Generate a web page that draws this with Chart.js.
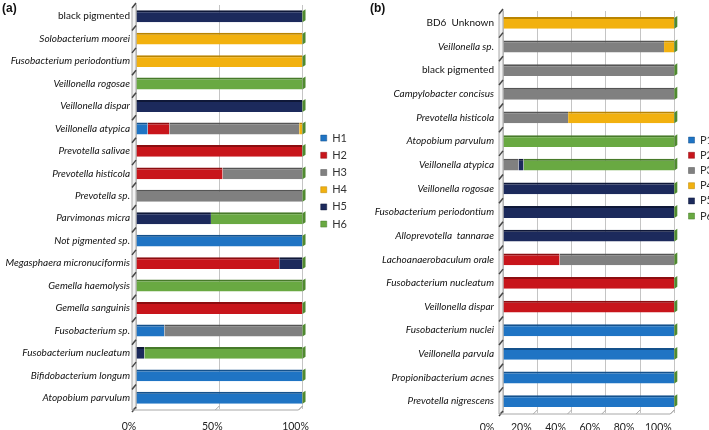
<!DOCTYPE html>
<html>
<head>
<meta charset="utf-8">
<script src="https://cdn.jsdelivr.net/npm/chart.js@4.4.1/dist/chart.umd.min.js"></script>
<style>
html,body{margin:0;padding:0;background:#fff;overflow:hidden;}
#wrap{position:relative;width:709px;height:430px;overflow:hidden;}
.panel{position:absolute;top:0;height:430px;}
#pa{left:0;width:360px;}
#pb{left:360px;width:380px;}
.tag{position:absolute;top:1px;font:bold 12px "Liberation Sans",Arial,sans-serif;color:#111;}
</style>
</head>
<body>
<div id="wrap">
<div class="panel" id="pa"><canvas id="chartA" width="360" height="430"></canvas></div>
<div class="panel" id="pb"><canvas id="chartB" width="380" height="430"></canvas></div>
<div class="tag" style="left:2px">(a)</div>
<div class="tag" style="left:370px">(b)</div>
</div>
<script>
// panel (a): rows top to bottom
const taxaA = ["black pigmented","Solobacterium moorei","Fusobacterium periodontium","Veillonella rogosae",
"Veillonella dispar","Veillonella atypica","Prevotella salivae","Prevotella histicola","Prevotella sp.",
"Parvimonas micra","Not pigmented sp.","Megasphaera micronuciformis","Gemella haemolysis","Gemella sanguinis",
"Fusobacterium sp.","Fusobacterium nucleatum","Bifidobacterium longum","Atopobium parvulum"];
const groupsA = ["H1","H2","H3","H4","H5","H6"];
const h1 = [0,0,0,0,0,7,0,0,0,0,100,0,0,0,17,0,100,100];
const h2 = [0,0,0,0,0,13,100,52,0,0,0,86,0,100,0,0,0,0];
const h3 = [0,0,0,0,0,78,0,48,100,0,0,0,0,0,83,0,0,0];
const h4 = [0,100,100,0,0,2,0,0,0,0,0,0,0,0,0,0,0,0];
const h5 = [100,0,0,0,100,0,0,0,0,45,0,14,0,0,0,5,0,0];
const h6 = [0,0,0,100,0,0,0,0,0,55,0,0,100,0,0,95,0,0];
const ticksA = [0,50,100];

// panel (b)
const taxaB = ["BD6  Unknown","Veillonella sp.","black pigmented","Campylobacter concisus","Prevotella histicola",
"Atopobium parvulum","Veillonella atypica","Veillonella rogosae","Fusobacterium periodontium",
"Alloprevotella  tannarae","Lachoanaerobaculum orale","Fusobacterium nucleatum","Veillonella dispar",
"Fusobacterium nuclei","Veillonella parvula","Propionibacterium acnes","Prevotella nigrescens"];
const groupsB = ["P1","P2","P3","P4","P5","P6"];
const p1 = [0,0,0,0,0,0,0,0,0,0,0,0,0,100,100,100,100];
const p2 = [0,0,0,0,0,0,0,0,0,0,33,100,100,0,0,0,0];
const p3 = [0,94,100,100,38,0,9,0,0,0,67,0,0,0,0,0,0];
const p4 = [100,6,0,0,62,0,0,0,0,0,0,0,0,0,0,0,0];
const p5 = [0,0,0,0,0,0,3,100,100,100,0,0,0,0,0,0,0];
const p6 = [0,0,0,0,0,100,88,0,0,0,0,0,0,0,0,0,0];
const ticksB = [0,20,40,60,80,100];

const fills = ["#1f74c4","#c8151b","#808080","#f2b10f","#1c2a5c","#69a942"];
const tops  = ["#14518c","#8c0d10","#555555","#b98400","#0f1838","#477a2a"];
const upright = ["black pigmented","BD6  Unknown"];

// 3d-ish wall, floor and end caps
const deco = {
  id:"deco",
  beforeDatasetsDraw(chart){
    const {ctx, chartArea:a, scales:{x,y}} = chart;
    ctx.save();
    // left wall
    ctx.fillStyle = "#f2f2f2";
    ctx.strokeStyle = "#a8a8a8";
    ctx.lineWidth = 1;
    ctx.beginPath();
    ctx.moveTo(a.left-4, a.top+3); ctx.lineTo(a.left, a.top-1);
    ctx.lineTo(a.left, a.bottom-3); ctx.lineTo(a.left-4, a.bottom+1);
    ctx.closePath(); ctx.fill(); ctx.stroke();
    ctx.strokeStyle = "#444";
    ctx.lineWidth = 1.5;
    const n = y.ticks.length;
    for(let i=0;i<=n;i++){
      const yb = y.getPixelForValue(i-0.5);
      ctx.beginPath(); ctx.moveTo(a.left-4, yb+3); ctx.lineTo(a.left, yb-2); ctx.stroke();
    }
    // floor
    ctx.strokeStyle = "#a8a8a8";
    ctx.lineWidth = 1;
    ctx.beginPath(); ctx.moveTo(a.left-4, a.bottom+1); ctx.lineTo(a.right-4, a.bottom+1);
    ctx.lineTo(a.right, a.bottom-3); ctx.stroke();
    x.ticks.forEach(t=>{
      const px = x.getPixelForValue(t.value);
      ctx.beginPath(); ctx.moveTo(px-4, a.bottom+1); ctx.lineTo(px, a.bottom-3); ctx.stroke();
    });
    ctx.restore();
  },
  afterDatasetsDraw(chart){
    const {ctx} = chart;
    const metas = chart.getSortedVisibleDatasetMetas();
    const last = metas[metas.length-1];
    ctx.save();
    ctx.fillStyle = "#4f8a2f";
    last.data.forEach(bar=>{
      const h = bar.height, top = bar.y-h/2;
      ctx.beginPath();
      ctx.moveTo(bar.x, top+1); ctx.lineTo(bar.x+3, top-1);
      ctx.lineTo(bar.x+3, top+h-2); ctx.lineTo(bar.x, top+h);
      ctx.closePath(); ctx.fill();
    });
    ctx.restore();
  }
};

function makeChart(id, labels, groups, series, tickVals, o){
  const datasets = groups.map((g,i)=>({
    label:g,
    data:series[i],
    backgroundColor:fills[i],
    borderColor:tops[i],
    borderWidth:{top:2,right:0,bottom:0,left:0},
    borderSkipped:false,
    categoryPercentage:1,
    barPercentage:o.barPct
  }));
  return new Chart(document.getElementById(id),{
    type:"bar",
    data:{labels:labels, datasets:datasets},
    plugins:[deco],
    options:{
      indexAxis:"y",
      responsive:false,
      animation:false,
      layout:{padding:{left:0,right:o.padRight,top:o.padTop,bottom:0}},
      plugins:{
        tooltip:{enabled:false},
        legend:{
          position:"right",
          align:"start",
          title:{display:true,text:" ",padding:{top:o.legendTop,bottom:0}},
          labels:{boxWidth:6,boxHeight:6,padding:o.legendPad,color:"#333",
            font:{family:"Lato",size:11}}
        }
      },
      scales:{
        x:{
          stacked:true,min:0,max:100,
          afterBuildTicks:s=>{s.ticks = tickVals.map(v=>({value:v}));},
          afterFit:s=>{s.height=o.xHeight; s.paddingLeft=0; s.paddingRight=0;},
          grid:{color:"#c4c4c4",drawTicks:false},
          border:{display:false},
          ticks:{padding:o.xPad,labelOffset:o.xOffset,color:"#222",
            font:{family:"Lato",size:10.5},
            callback:v=>v+"%"}
        },
        y:{
          stacked:true,
          afterFit:s=>{s.width=o.yWidth; s.paddingTop=0; s.paddingBottom=0;},
          grid:{display:false,drawTicks:false},
          border:{display:false},
          ticks:{padding:o.yPad,color:"#111",
            font:c=>({family:"Lato",size:10,
              style: upright.includes(labels[c.index]) ? "normal" : "italic"})}
        },
        gap:{
          type:"category",
          position:"right",
          grid:{display:false,drawTicks:false},
          border:{display:false},
          ticks:{display:false},
          afterFit:s=>{s.width=o.gap; s.paddingTop=0; s.paddingBottom=0;}
        }
      }
    }
  });
}

makeChart("chartA", taxaA, groupsA, [h1,h2,h3,h4,h5,h6], ticksA,
  {barPct:0.53,padRight:3,padTop:5,legendTop:107,legendPad:6.2,xHeight:21,xPad:11,xOffset:-7,
   yWidth:136,yPad:6,gap:12});
makeChart("chartB", taxaB, groupsB, [p1,p2,p3,p4,p5,p6], ticksB,
  {barPct:0.5,padRight:17,padTop:11,legendTop:105,legendPad:4.2,xHeight:17,xPad:8,xOffset:-16,
   yWidth:143,yPad:9,gap:10});
</script>
</body>
</html>
